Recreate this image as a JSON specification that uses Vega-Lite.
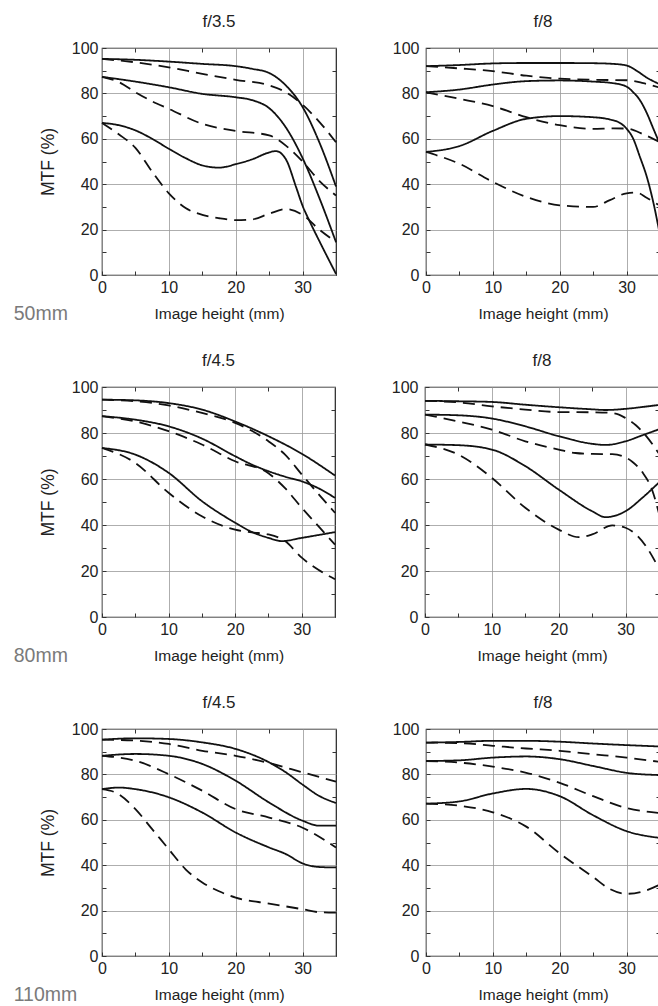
{
"$schema":"https://vega.github.io/schema/vega-lite/v6.json",
"padding":{"left":13,"top":12,"right":0,"bottom":0},
"background":"white",
"config":{
 "font":"Liberation Sans",
 "view":{"stroke":"#222","strokeWidth":1.2},
 "axis":{"labelFont":"Liberation Sans","labelFontSize":16,"labelColor":"#222","titleFont":"Liberation Sans","titleFontSize":15.5,"titleFontWeight":"normal","titleColor":"#222","gridColor":"#999","gridWidth":0.8,"tickColor":"#333","tickWidth":1,"domain":false,"labelFlush":false,"labelOverlap":false},
 "axisY":{"titleFontSize":17.5},
 "title":{"font":"Liberation Sans","fontSize":17,"fontWeight":"normal","color":"#222","offset":9},
 "line":{"strokeWidth":1.8},
 "concat":{"spacing":50}
},
"datasets":{"mtf":[
{"panel":"A","dir":"S","freq":1,"h":0,"mtf":95.2},{"panel":"A","dir":"S","freq":1,"h":5,"mtf":94.8},{"panel":"A","dir":"S","freq":1,"h":10,"mtf":94},{"panel":"A","dir":"S","freq":1,"h":15,"mtf":93},{"panel":"A","dir":"S","freq":1,"h":20,"mtf":92},{"panel":"A","dir":"S","freq":1,"h":22.5,"mtf":90.8},{"panel":"A","dir":"S","freq":1,"h":25,"mtf":89},{"panel":"A","dir":"S","freq":1,"h":27.5,"mtf":83.5},{"panel":"A","dir":"S","freq":1,"h":30,"mtf":74},{"panel":"A","dir":"S","freq":1,"h":32.5,"mtf":58.5},{"panel":"A","dir":"S","freq":1,"h":35,"mtf":39},
{"panel":"A","dir":"M","freq":1,"h":0,"mtf":95.2},{"panel":"A","dir":"M","freq":1,"h":5,"mtf":93.7},{"panel":"A","dir":"M","freq":1,"h":10,"mtf":91.5},{"panel":"A","dir":"M","freq":1,"h":15,"mtf":88.6},{"panel":"A","dir":"M","freq":1,"h":20,"mtf":86},{"panel":"A","dir":"M","freq":1,"h":25,"mtf":83.5},{"panel":"A","dir":"M","freq":1,"h":27.5,"mtf":80.5},{"panel":"A","dir":"M","freq":1,"h":30,"mtf":75},{"panel":"A","dir":"M","freq":1,"h":32.5,"mtf":67.5},{"panel":"A","dir":"M","freq":1,"h":35,"mtf":58.5},
{"panel":"A","dir":"S","freq":2,"h":0,"mtf":87.3},{"panel":"A","dir":"S","freq":2,"h":5,"mtf":85.2},{"panel":"A","dir":"S","freq":2,"h":10,"mtf":82.7},{"panel":"A","dir":"S","freq":2,"h":15,"mtf":79.8},{"panel":"A","dir":"S","freq":2,"h":20,"mtf":78.3},{"panel":"A","dir":"S","freq":2,"h":22.5,"mtf":77},{"panel":"A","dir":"S","freq":2,"h":25,"mtf":73.5},{"panel":"A","dir":"S","freq":2,"h":27.5,"mtf":65},{"panel":"A","dir":"S","freq":2,"h":30,"mtf":51.5},{"panel":"A","dir":"S","freq":2,"h":32.5,"mtf":34},{"panel":"A","dir":"S","freq":2,"h":35,"mtf":14.5},
{"panel":"A","dir":"M","freq":2,"h":0,"mtf":87.3},{"panel":"A","dir":"M","freq":2,"h":2.5,"mtf":85},{"panel":"A","dir":"M","freq":2,"h":5,"mtf":80.5},{"panel":"A","dir":"M","freq":2,"h":7.5,"mtf":76.5},{"panel":"A","dir":"M","freq":2,"h":10,"mtf":73.2},{"panel":"A","dir":"M","freq":2,"h":15,"mtf":66.6},{"panel":"A","dir":"M","freq":2,"h":20,"mtf":63.5},{"panel":"A","dir":"M","freq":2,"h":25,"mtf":61.5},{"panel":"A","dir":"M","freq":2,"h":27.5,"mtf":57},{"panel":"A","dir":"M","freq":2,"h":30,"mtf":50},{"panel":"A","dir":"M","freq":2,"h":32.5,"mtf":41.5},{"panel":"A","dir":"M","freq":2,"h":35,"mtf":35},
{"panel":"A","dir":"S","freq":3,"h":0,"mtf":67},{"panel":"A","dir":"S","freq":3,"h":2.5,"mtf":66},{"panel":"A","dir":"S","freq":3,"h":5,"mtf":63.7},{"panel":"A","dir":"S","freq":3,"h":7.5,"mtf":60},{"panel":"A","dir":"S","freq":3,"h":10,"mtf":55.6},{"panel":"A","dir":"S","freq":3,"h":12.5,"mtf":51.5},{"panel":"A","dir":"S","freq":3,"h":15,"mtf":48.3},{"panel":"A","dir":"S","freq":3,"h":17.5,"mtf":47.3},{"panel":"A","dir":"S","freq":3,"h":20,"mtf":48.8},{"panel":"A","dir":"S","freq":3,"h":22.5,"mtf":51},{"panel":"A","dir":"S","freq":3,"h":25,"mtf":54},{"panel":"A","dir":"S","freq":3,"h":26,"mtf":54.6},{"panel":"A","dir":"S","freq":3,"h":27.5,"mtf":51},{"panel":"A","dir":"S","freq":3,"h":29,"mtf":39},{"panel":"A","dir":"S","freq":3,"h":30,"mtf":30.5},{"panel":"A","dir":"S","freq":3,"h":31,"mtf":24},{"panel":"A","dir":"S","freq":3,"h":32.5,"mtf":15},{"panel":"A","dir":"S","freq":3,"h":35,"mtf":0.5},
{"panel":"A","dir":"M","freq":3,"h":0,"mtf":67},{"panel":"A","dir":"M","freq":3,"h":2.5,"mtf":62},{"panel":"A","dir":"M","freq":3,"h":5,"mtf":56},{"panel":"A","dir":"M","freq":3,"h":7.5,"mtf":45.5},{"panel":"A","dir":"M","freq":3,"h":10,"mtf":36},{"panel":"A","dir":"M","freq":3,"h":12.5,"mtf":29.5},{"panel":"A","dir":"M","freq":3,"h":15,"mtf":26.5},{"panel":"A","dir":"M","freq":3,"h":17.5,"mtf":25},{"panel":"A","dir":"M","freq":3,"h":20,"mtf":24.2},{"panel":"A","dir":"M","freq":3,"h":22.5,"mtf":24.5},{"panel":"A","dir":"M","freq":3,"h":25,"mtf":27},{"panel":"A","dir":"M","freq":3,"h":27.5,"mtf":29},{"panel":"A","dir":"M","freq":3,"h":30,"mtf":26.5},{"panel":"A","dir":"M","freq":3,"h":32.5,"mtf":20},{"panel":"A","dir":"M","freq":3,"h":35,"mtf":14.5},

{"panel":"B","dir":"S","freq":1,"h":0,"mtf":92},{"panel":"B","dir":"S","freq":1,"h":5,"mtf":92.5},{"panel":"B","dir":"S","freq":1,"h":10,"mtf":93.2},{"panel":"B","dir":"S","freq":1,"h":15,"mtf":93.4},{"panel":"B","dir":"S","freq":1,"h":20,"mtf":93.4},{"panel":"B","dir":"S","freq":1,"h":25,"mtf":93.3},{"panel":"B","dir":"S","freq":1,"h":28,"mtf":93},{"panel":"B","dir":"S","freq":1,"h":30,"mtf":92.3},{"panel":"B","dir":"S","freq":1,"h":31.5,"mtf":90},{"panel":"B","dir":"S","freq":1,"h":33,"mtf":87},{"panel":"B","dir":"S","freq":1,"h":35,"mtf":84},
{"panel":"B","dir":"M","freq":1,"h":0,"mtf":92},{"panel":"B","dir":"M","freq":1,"h":5,"mtf":91},{"panel":"B","dir":"M","freq":1,"h":10,"mtf":89.8},{"panel":"B","dir":"M","freq":1,"h":15,"mtf":87.8},{"panel":"B","dir":"M","freq":1,"h":20,"mtf":86.5},{"panel":"B","dir":"M","freq":1,"h":25,"mtf":86},{"panel":"B","dir":"M","freq":1,"h":30,"mtf":85.8},{"panel":"B","dir":"M","freq":1,"h":32.5,"mtf":84.5},{"panel":"B","dir":"M","freq":1,"h":35,"mtf":82.5},
{"panel":"B","dir":"S","freq":2,"h":0,"mtf":80.5},{"panel":"B","dir":"S","freq":2,"h":5,"mtf":81.7},{"panel":"B","dir":"S","freq":2,"h":10,"mtf":83.9},{"panel":"B","dir":"S","freq":2,"h":15,"mtf":85.4},{"panel":"B","dir":"S","freq":2,"h":20,"mtf":85.7},{"panel":"B","dir":"S","freq":2,"h":25,"mtf":85.2},{"panel":"B","dir":"S","freq":2,"h":28,"mtf":84.5},{"panel":"B","dir":"S","freq":2,"h":30,"mtf":83},{"panel":"B","dir":"S","freq":2,"h":31,"mtf":80.5},{"panel":"B","dir":"S","freq":2,"h":32,"mtf":77},{"panel":"B","dir":"S","freq":2,"h":33,"mtf":71.5},{"panel":"B","dir":"S","freq":2,"h":34,"mtf":64.5},{"panel":"B","dir":"S","freq":2,"h":35,"mtf":57.5},
{"panel":"B","dir":"M","freq":2,"h":0,"mtf":80.5},{"panel":"B","dir":"M","freq":2,"h":5,"mtf":77.6},{"panel":"B","dir":"M","freq":2,"h":10,"mtf":74.4},{"panel":"B","dir":"M","freq":2,"h":15,"mtf":69.5},{"panel":"B","dir":"M","freq":2,"h":20,"mtf":66},{"panel":"B","dir":"M","freq":2,"h":25,"mtf":64.4},{"panel":"B","dir":"M","freq":2,"h":28,"mtf":64.6},{"panel":"B","dir":"M","freq":2,"h":30,"mtf":64.5},{"panel":"B","dir":"M","freq":2,"h":32.5,"mtf":62},{"panel":"B","dir":"M","freq":2,"h":35,"mtf":58.5},
{"panel":"B","dir":"S","freq":3,"h":0,"mtf":54.2},{"panel":"B","dir":"S","freq":3,"h":5,"mtf":56.8},{"panel":"B","dir":"S","freq":3,"h":10,"mtf":63.5},{"panel":"B","dir":"S","freq":3,"h":15,"mtf":68.8},{"panel":"B","dir":"S","freq":3,"h":20,"mtf":70},{"panel":"B","dir":"S","freq":3,"h":25,"mtf":69.5},{"panel":"B","dir":"S","freq":3,"h":27.5,"mtf":68.5},{"panel":"B","dir":"S","freq":3,"h":29,"mtf":67},{"panel":"B","dir":"S","freq":3,"h":30,"mtf":64.5},{"panel":"B","dir":"S","freq":3,"h":31,"mtf":60},{"panel":"B","dir":"S","freq":3,"h":32,"mtf":52},{"panel":"B","dir":"S","freq":3,"h":33,"mtf":43.5},{"panel":"B","dir":"S","freq":3,"h":34,"mtf":32},{"panel":"B","dir":"S","freq":3,"h":35,"mtf":17.5},
{"panel":"B","dir":"M","freq":3,"h":0,"mtf":54.2},{"panel":"B","dir":"M","freq":3,"h":5,"mtf":49},{"panel":"B","dir":"M","freq":3,"h":10,"mtf":41},{"panel":"B","dir":"M","freq":3,"h":15,"mtf":34.4},{"panel":"B","dir":"M","freq":3,"h":20,"mtf":30.7},{"panel":"B","dir":"M","freq":3,"h":25,"mtf":30},{"panel":"B","dir":"M","freq":3,"h":27.5,"mtf":33},{"panel":"B","dir":"M","freq":3,"h":30,"mtf":36},{"panel":"B","dir":"M","freq":3,"h":31.5,"mtf":36.3},{"panel":"B","dir":"M","freq":3,"h":33,"mtf":34},{"panel":"B","dir":"M","freq":3,"h":35,"mtf":30.5},

{"panel":"C","dir":"S","freq":1,"h":0,"mtf":94.5},{"panel":"C","dir":"S","freq":1,"h":5,"mtf":94.2},{"panel":"C","dir":"S","freq":1,"h":10,"mtf":93},{"panel":"C","dir":"S","freq":1,"h":15,"mtf":90.2},{"panel":"C","dir":"S","freq":1,"h":20,"mtf":85},{"panel":"C","dir":"S","freq":1,"h":25,"mtf":78.6},{"panel":"C","dir":"S","freq":1,"h":30,"mtf":71},{"panel":"C","dir":"S","freq":1,"h":35,"mtf":61.5},
{"panel":"C","dir":"M","freq":1,"h":0,"mtf":94.5},{"panel":"C","dir":"M","freq":1,"h":5,"mtf":93.8},{"panel":"C","dir":"M","freq":1,"h":10,"mtf":92},{"panel":"C","dir":"M","freq":1,"h":15,"mtf":88.7},{"panel":"C","dir":"M","freq":1,"h":20,"mtf":84.4},{"panel":"C","dir":"M","freq":1,"h":25,"mtf":76.4},{"panel":"C","dir":"M","freq":1,"h":27.5,"mtf":70.6},{"panel":"C","dir":"M","freq":1,"h":30,"mtf":62},{"panel":"C","dir":"M","freq":1,"h":32.5,"mtf":53.5},{"panel":"C","dir":"M","freq":1,"h":35,"mtf":45.3},
{"panel":"C","dir":"S","freq":2,"h":0,"mtf":87.3},{"panel":"C","dir":"S","freq":2,"h":5,"mtf":85.8},{"panel":"C","dir":"S","freq":2,"h":10,"mtf":82.9},{"panel":"C","dir":"S","freq":2,"h":15,"mtf":77.6},{"panel":"C","dir":"S","freq":2,"h":20,"mtf":69.9},{"panel":"C","dir":"S","freq":2,"h":22.5,"mtf":66.3},{"panel":"C","dir":"S","freq":2,"h":25,"mtf":63.4},{"panel":"C","dir":"S","freq":2,"h":27.5,"mtf":61},{"panel":"C","dir":"S","freq":2,"h":30,"mtf":59},{"panel":"C","dir":"S","freq":2,"h":32.5,"mtf":56},{"panel":"C","dir":"S","freq":2,"h":35,"mtf":51.8},
{"panel":"C","dir":"M","freq":2,"h":0,"mtf":87.3},{"panel":"C","dir":"M","freq":2,"h":5,"mtf":85},{"panel":"C","dir":"M","freq":2,"h":10,"mtf":80.8},{"panel":"C","dir":"M","freq":2,"h":15,"mtf":75},{"panel":"C","dir":"M","freq":2,"h":20,"mtf":67.7},{"panel":"C","dir":"M","freq":2,"h":25,"mtf":62.5},{"panel":"C","dir":"M","freq":2,"h":27.5,"mtf":56},{"panel":"C","dir":"M","freq":2,"h":30,"mtf":47.5},{"panel":"C","dir":"M","freq":2,"h":32.5,"mtf":39.5},{"panel":"C","dir":"M","freq":2,"h":35,"mtf":31.5},
{"panel":"C","dir":"S","freq":3,"h":0,"mtf":73.5},{"panel":"C","dir":"S","freq":3,"h":5,"mtf":70.6},{"panel":"C","dir":"S","freq":3,"h":10,"mtf":62.7},{"panel":"C","dir":"S","freq":3,"h":15,"mtf":50.4},{"panel":"C","dir":"S","freq":3,"h":20,"mtf":41},{"panel":"C","dir":"S","freq":3,"h":22.5,"mtf":37},{"panel":"C","dir":"S","freq":3,"h":25,"mtf":34.4},{"panel":"C","dir":"S","freq":3,"h":27,"mtf":33},{"panel":"C","dir":"S","freq":3,"h":30,"mtf":34.4},{"panel":"C","dir":"S","freq":3,"h":35,"mtf":36.9},
{"panel":"C","dir":"M","freq":3,"h":0,"mtf":73.5},{"panel":"C","dir":"M","freq":3,"h":5,"mtf":67},{"panel":"C","dir":"M","freq":3,"h":10,"mtf":54},{"panel":"C","dir":"M","freq":3,"h":15,"mtf":43.8},{"panel":"C","dir":"M","freq":3,"h":20,"mtf":38},{"panel":"C","dir":"M","freq":3,"h":22.5,"mtf":36.8},{"panel":"C","dir":"M","freq":3,"h":25,"mtf":35.9},{"panel":"C","dir":"M","freq":3,"h":27.5,"mtf":33},{"panel":"C","dir":"M","freq":3,"h":30,"mtf":25.8},{"panel":"C","dir":"M","freq":3,"h":32.5,"mtf":20.5},{"panel":"C","dir":"M","freq":3,"h":35,"mtf":16.4},

{"panel":"D","dir":"S","freq":1,"h":0,"mtf":94},{"panel":"D","dir":"S","freq":1,"h":5,"mtf":93.8},{"panel":"D","dir":"S","freq":1,"h":10,"mtf":93.5},{"panel":"D","dir":"S","freq":1,"h":15,"mtf":92.3},{"panel":"D","dir":"S","freq":1,"h":20,"mtf":91.2},{"panel":"D","dir":"S","freq":1,"h":25,"mtf":90.3},{"panel":"D","dir":"S","freq":1,"h":27,"mtf":90},{"panel":"D","dir":"S","freq":1,"h":30,"mtf":90.5},{"panel":"D","dir":"S","freq":1,"h":32.5,"mtf":91.3},{"panel":"D","dir":"S","freq":1,"h":35,"mtf":92.2},
{"panel":"D","dir":"M","freq":1,"h":0,"mtf":94},{"panel":"D","dir":"M","freq":1,"h":5,"mtf":93.3},{"panel":"D","dir":"M","freq":1,"h":10,"mtf":91.6},{"panel":"D","dir":"M","freq":1,"h":15,"mtf":90.2},{"panel":"D","dir":"M","freq":1,"h":20,"mtf":89.1},{"panel":"D","dir":"M","freq":1,"h":25,"mtf":89},{"panel":"D","dir":"M","freq":1,"h":27.5,"mtf":88.8},{"panel":"D","dir":"M","freq":1,"h":29,"mtf":88},{"panel":"D","dir":"M","freq":1,"h":30,"mtf":86.5},{"panel":"D","dir":"M","freq":1,"h":31.5,"mtf":83.5},{"panel":"D","dir":"M","freq":1,"h":33,"mtf":79},{"panel":"D","dir":"M","freq":1,"h":35,"mtf":71},
{"panel":"D","dir":"S","freq":2,"h":0,"mtf":88},{"panel":"D","dir":"S","freq":2,"h":5,"mtf":87.7},{"panel":"D","dir":"S","freq":2,"h":10,"mtf":86.3},{"panel":"D","dir":"S","freq":2,"h":15,"mtf":82.9},{"panel":"D","dir":"S","freq":2,"h":20,"mtf":78.6},{"panel":"D","dir":"S","freq":2,"h":25,"mtf":75.3},{"panel":"D","dir":"S","freq":2,"h":27,"mtf":74.8},{"panel":"D","dir":"S","freq":2,"h":30,"mtf":76.4},{"panel":"D","dir":"S","freq":2,"h":32.5,"mtf":79},{"panel":"D","dir":"S","freq":2,"h":35,"mtf":81.6},
{"panel":"D","dir":"M","freq":2,"h":0,"mtf":88},{"panel":"D","dir":"M","freq":2,"h":5,"mtf":85},{"panel":"D","dir":"M","freq":2,"h":10,"mtf":81.5},{"panel":"D","dir":"M","freq":2,"h":15,"mtf":76.4},{"panel":"D","dir":"M","freq":2,"h":20,"mtf":72.8},{"panel":"D","dir":"M","freq":2,"h":22.5,"mtf":71.3},{"panel":"D","dir":"M","freq":2,"h":25,"mtf":70.9},{"panel":"D","dir":"M","freq":2,"h":28,"mtf":70.8},{"panel":"D","dir":"M","freq":2,"h":29.5,"mtf":70},{"panel":"D","dir":"M","freq":2,"h":31,"mtf":67.5},{"panel":"D","dir":"M","freq":2,"h":32.5,"mtf":63},{"panel":"D","dir":"M","freq":2,"h":34,"mtf":55},{"panel":"D","dir":"M","freq":2,"h":35,"mtf":45},
{"panel":"D","dir":"S","freq":3,"h":0,"mtf":75},{"panel":"D","dir":"S","freq":3,"h":5,"mtf":74.7},{"panel":"D","dir":"S","freq":3,"h":10,"mtf":72.8},{"panel":"D","dir":"S","freq":3,"h":15,"mtf":65.6},{"panel":"D","dir":"S","freq":3,"h":20,"mtf":55.4},{"panel":"D","dir":"S","freq":3,"h":25,"mtf":46},{"panel":"D","dir":"S","freq":3,"h":27,"mtf":43.4},{"panel":"D","dir":"S","freq":3,"h":30,"mtf":46},{"panel":"D","dir":"S","freq":3,"h":32.5,"mtf":51.8},{"panel":"D","dir":"S","freq":3,"h":35,"mtf":58.5},
{"panel":"D","dir":"M","freq":3,"h":0,"mtf":75},{"panel":"D","dir":"M","freq":3,"h":5,"mtf":70.6},{"panel":"D","dir":"M","freq":3,"h":10,"mtf":60.5},{"panel":"D","dir":"M","freq":3,"h":15,"mtf":47.5},{"panel":"D","dir":"M","freq":3,"h":20,"mtf":38},{"panel":"D","dir":"M","freq":3,"h":23,"mtf":34.7},{"panel":"D","dir":"M","freq":3,"h":25,"mtf":35.9},{"panel":"D","dir":"M","freq":3,"h":28,"mtf":39.8},{"panel":"D","dir":"M","freq":3,"h":30,"mtf":38.8},{"panel":"D","dir":"M","freq":3,"h":31.5,"mtf":36},{"panel":"D","dir":"M","freq":3,"h":33,"mtf":31},{"panel":"D","dir":"M","freq":3,"h":35,"mtf":21},

{"panel":"E","dir":"S","freq":1,"h":0,"mtf":95.3},{"panel":"E","dir":"S","freq":1,"h":5,"mtf":95.9},{"panel":"E","dir":"S","freq":1,"h":10,"mtf":95.6},{"panel":"E","dir":"S","freq":1,"h":15,"mtf":94.1},{"panel":"E","dir":"S","freq":1,"h":20,"mtf":91.2},{"panel":"E","dir":"S","freq":1,"h":25,"mtf":85.3},{"panel":"E","dir":"S","freq":1,"h":27.5,"mtf":80.9},{"panel":"E","dir":"S","freq":1,"h":30,"mtf":75.5},{"panel":"E","dir":"S","freq":1,"h":32.5,"mtf":70.5},{"panel":"E","dir":"S","freq":1,"h":35,"mtf":67.4},
{"panel":"E","dir":"M","freq":1,"h":0,"mtf":95.3},{"panel":"E","dir":"M","freq":1,"h":5,"mtf":94.9},{"panel":"E","dir":"M","freq":1,"h":10,"mtf":93.4},{"panel":"E","dir":"M","freq":1,"h":15,"mtf":90.4},{"panel":"E","dir":"M","freq":1,"h":20,"mtf":88.2},{"panel":"E","dir":"M","freq":1,"h":25,"mtf":85},{"panel":"E","dir":"M","freq":1,"h":30,"mtf":80.9},{"panel":"E","dir":"M","freq":1,"h":35,"mtf":76.8},
{"panel":"E","dir":"S","freq":2,"h":0,"mtf":88.2},{"panel":"E","dir":"S","freq":2,"h":5,"mtf":89},{"panel":"E","dir":"S","freq":2,"h":10,"mtf":88.2},{"panel":"E","dir":"S","freq":2,"h":15,"mtf":84.6},{"panel":"E","dir":"S","freq":2,"h":20,"mtf":77.2},{"panel":"E","dir":"S","freq":2,"h":25,"mtf":67.6},{"panel":"E","dir":"S","freq":2,"h":30,"mtf":59.6},{"panel":"E","dir":"S","freq":2,"h":32.5,"mtf":57.4},{"panel":"E","dir":"S","freq":2,"h":35,"mtf":57.4},
{"panel":"E","dir":"M","freq":2,"h":0,"mtf":88.2},{"panel":"E","dir":"M","freq":2,"h":5,"mtf":86},{"panel":"E","dir":"M","freq":2,"h":10,"mtf":80.1},{"panel":"E","dir":"M","freq":2,"h":15,"mtf":72.8},{"panel":"E","dir":"M","freq":2,"h":20,"mtf":64.7},{"panel":"E","dir":"M","freq":2,"h":25,"mtf":61},{"panel":"E","dir":"M","freq":2,"h":30,"mtf":56.5},{"panel":"E","dir":"M","freq":2,"h":35,"mtf":47.8},
{"panel":"E","dir":"S","freq":3,"h":0,"mtf":73.5},{"panel":"E","dir":"S","freq":3,"h":2.5,"mtf":74.2},{"panel":"E","dir":"S","freq":3,"h":5,"mtf":73.5},{"panel":"E","dir":"S","freq":3,"h":10,"mtf":69.9},{"panel":"E","dir":"S","freq":3,"h":15,"mtf":63.2},{"panel":"E","dir":"S","freq":3,"h":20,"mtf":54.4},{"panel":"E","dir":"S","freq":3,"h":25,"mtf":47.8},{"panel":"E","dir":"S","freq":3,"h":27.5,"mtf":44.9},{"panel":"E","dir":"S","freq":3,"h":30,"mtf":40.8},{"panel":"E","dir":"S","freq":3,"h":32.5,"mtf":39.2},{"panel":"E","dir":"S","freq":3,"h":35,"mtf":39},
{"panel":"E","dir":"M","freq":3,"h":0,"mtf":73.5},{"panel":"E","dir":"M","freq":3,"h":2.5,"mtf":71.3},{"panel":"E","dir":"M","freq":3,"h":5,"mtf":64.7},{"panel":"E","dir":"M","freq":3,"h":7.5,"mtf":55.9},{"panel":"E","dir":"M","freq":3,"h":10,"mtf":47},{"panel":"E","dir":"M","freq":3,"h":12.5,"mtf":38.2},{"panel":"E","dir":"M","freq":3,"h":15,"mtf":32.4},{"panel":"E","dir":"M","freq":3,"h":17.5,"mtf":28.5},{"panel":"E","dir":"M","freq":3,"h":20,"mtf":25.7},{"panel":"E","dir":"M","freq":3,"h":25,"mtf":23.1},{"panel":"E","dir":"M","freq":3,"h":30,"mtf":20.6},{"panel":"E","dir":"M","freq":3,"h":32.5,"mtf":19.3},{"panel":"E","dir":"M","freq":3,"h":35,"mtf":19.1},

{"panel":"F","dir":"S","freq":1,"h":0,"mtf":94},{"panel":"F","dir":"S","freq":1,"h":5,"mtf":94.3},{"panel":"F","dir":"S","freq":1,"h":10,"mtf":94.8},{"panel":"F","dir":"S","freq":1,"h":15,"mtf":94.8},{"panel":"F","dir":"S","freq":1,"h":20,"mtf":94.4},{"panel":"F","dir":"S","freq":1,"h":25,"mtf":93.6},{"panel":"F","dir":"S","freq":1,"h":30,"mtf":92.9},{"panel":"F","dir":"S","freq":1,"h":35,"mtf":92.3},
{"panel":"F","dir":"M","freq":1,"h":0,"mtf":94},{"panel":"F","dir":"M","freq":1,"h":5,"mtf":93.8},{"panel":"F","dir":"M","freq":1,"h":10,"mtf":92.6},{"panel":"F","dir":"M","freq":1,"h":15,"mtf":91.4},{"panel":"F","dir":"M","freq":1,"h":20,"mtf":90.4},{"panel":"F","dir":"M","freq":1,"h":25,"mtf":88.9},{"panel":"F","dir":"M","freq":1,"h":30,"mtf":87.4},{"panel":"F","dir":"M","freq":1,"h":35,"mtf":85.5},
{"panel":"F","dir":"S","freq":2,"h":0,"mtf":85.9},{"panel":"F","dir":"S","freq":2,"h":5,"mtf":86.2},{"panel":"F","dir":"S","freq":2,"h":10,"mtf":87.4},{"panel":"F","dir":"S","freq":2,"h":15,"mtf":87.9},{"panel":"F","dir":"S","freq":2,"h":20,"mtf":86.7},{"panel":"F","dir":"S","freq":2,"h":25,"mtf":83.7},{"panel":"F","dir":"S","freq":2,"h":30,"mtf":80.7},{"panel":"F","dir":"S","freq":2,"h":35,"mtf":79.7},
{"panel":"F","dir":"M","freq":2,"h":0,"mtf":85.9},{"panel":"F","dir":"M","freq":2,"h":5,"mtf":85.2},{"panel":"F","dir":"M","freq":2,"h":10,"mtf":83.4},{"panel":"F","dir":"M","freq":2,"h":15,"mtf":80.7},{"panel":"F","dir":"M","freq":2,"h":20,"mtf":76.3},{"panel":"F","dir":"M","freq":2,"h":25,"mtf":70.4},{"panel":"F","dir":"M","freq":2,"h":30,"mtf":65.2},{"panel":"F","dir":"M","freq":2,"h":35,"mtf":63},
{"panel":"F","dir":"S","freq":3,"h":0,"mtf":67.1},{"panel":"F","dir":"S","freq":3,"h":5,"mtf":68.1},{"panel":"F","dir":"S","freq":3,"h":10,"mtf":71.6},{"panel":"F","dir":"S","freq":3,"h":15,"mtf":73.6},{"panel":"F","dir":"S","freq":3,"h":20,"mtf":70.4},{"panel":"F","dir":"S","freq":3,"h":25,"mtf":62},{"panel":"F","dir":"S","freq":3,"h":30,"mtf":55},{"panel":"F","dir":"S","freq":3,"h":35,"mtf":52},
{"panel":"F","dir":"M","freq":3,"h":0,"mtf":67.1},{"panel":"F","dir":"M","freq":3,"h":5,"mtf":66.2},{"panel":"F","dir":"M","freq":3,"h":10,"mtf":63.3},{"panel":"F","dir":"M","freq":3,"h":15,"mtf":57},{"panel":"F","dir":"M","freq":3,"h":20,"mtf":45.2},{"panel":"F","dir":"M","freq":3,"h":25,"mtf":34.8},{"panel":"F","dir":"M","freq":3,"h":27.5,"mtf":29.5},{"panel":"F","dir":"M","freq":3,"h":30,"mtf":27.4},{"panel":"F","dir":"M","freq":3,"h":32.5,"mtf":28.5},{"panel":"F","dir":"M","freq":3,"h":35,"mtf":31.5}
]},
"spacing":27,
"vconcat":[
{"title":{"text":"50mm","orient":"bottom","anchor":"start","fontSize":19.5,"color":"#7a7a7a","offset":-17,"dx":-25},
 "spacing":50,
 "hconcat":[
  {"width":234,"height":227,"title":"f/3.5","data":{"name":"mtf"},"transform":[{"filter":"datum.panel === 'A'"}],
   "layer":[
    {"mark":{"type":"line","interpolate":"monotone","strokeWidth":1.8,"color":"#111"},
     "encoding":{
      "x":{"field":"h","type":"quantitative","scale":{"domain":[0,35],"nice":false},"axis":{"orient":"bottom","values":[0,5,10,15,20,25,30,35],"labelExpr":"datum.value % 10 === 0 && datum.value < 35 ? datum.label : ''","title":"Image height (mm)","grid":true,"gridOpacity":{"condition":{"test":"datum.value % 10 === 0","value":1},"value":0},"tickSize":-4,"labelPadding":8,"titlePadding":11}},
      "y":{"field":"mtf","type":"quantitative","scale":{"domain":[0,100],"nice":false},"axis":{"orient":"left","values":[0,10,20,30,40,50,60,70,80,90,100],"labelExpr":"datum.value % 20 === 0 ? datum.label : ''","title":"MTF (%)","grid":true,"gridOpacity":{"condition":{"test":"datum.value % 20 === 0","value":1},"value":0},"tickSize":-4,"labelPadding":8,"titlePadding":14}},
      "detail":{"field":"freq"},
      "strokeDash":{"field":"dir","type":"nominal","scale":{"domain":["S","M"],"range":[[1,0],[12,7]]},"legend":null}}},
    {"mark":{"type":"line","strokeOpacity":0},
     "encoding":{
      "x":{"field":"h","type":"quantitative","axis":{"orient":"top","values":[5,15,25],"labels":false,"grid":false,"title":null,"tickSize":-4}},
      "y":{"field":"mtf","type":"quantitative","axis":{"orient":"right","values":[10,30,50,70,90],"labels":false,"grid":false,"title":null,"tickSize":-4}},
      "detail":{"field":"freq"}}}
   ],
   "resolve":{"axis":{"x":"independent","y":"independent"}}},
  {"width":234,"height":227,"title":"f/8","data":{"name":"mtf"},"transform":[{"filter":"datum.panel === 'B'"}],
   "layer":[
    {"mark":{"type":"line","interpolate":"monotone","strokeWidth":1.8,"color":"#111"},
     "encoding":{
      "x":{"field":"h","type":"quantitative","scale":{"domain":[0,35],"nice":false},"axis":{"orient":"bottom","values":[0,5,10,15,20,25,30,35],"labelExpr":"datum.value % 10 === 0 && datum.value < 35 ? datum.label : ''","title":"Image height (mm)","grid":true,"gridOpacity":{"condition":{"test":"datum.value % 10 === 0","value":1},"value":0},"tickSize":-4,"labelPadding":8,"titlePadding":11}},
      "y":{"field":"mtf","type":"quantitative","scale":{"domain":[0,100],"nice":false},"axis":{"orient":"left","values":[0,10,20,30,40,50,60,70,80,90,100],"labelExpr":"datum.value % 20 === 0 ? datum.label : ''","title":null,"grid":true,"gridOpacity":{"condition":{"test":"datum.value % 20 === 0","value":1},"value":0},"tickSize":-4,"labelPadding":11}},
      "detail":{"field":"freq"},
      "strokeDash":{"field":"dir","type":"nominal","scale":{"domain":["S","M"],"range":[[1,0],[12,7]]},"legend":null}}},
    {"mark":{"type":"line","strokeOpacity":0},
     "encoding":{
      "x":{"field":"h","type":"quantitative","axis":{"orient":"top","values":[5,15,25],"labels":false,"grid":false,"title":null,"tickSize":-4}},
      "y":{"field":"mtf","type":"quantitative","axis":{"orient":"right","values":[10,30,50,70,90],"labels":false,"grid":false,"title":null,"tickSize":-4}},
      "detail":{"field":"freq"}}}
   ],
   "resolve":{"axis":{"x":"independent","y":"independent"}}}
 ]},
{"title":{"text":"80mm","orient":"bottom","anchor":"start","fontSize":19.5,"color":"#7a7a7a","offset":-17,"dx":-25},
 "spacing":50,
 "hconcat":[
  {"width":233,"height":230,"title":"f/4.5","data":{"name":"mtf"},"transform":[{"filter":"datum.panel === 'C'"}],
   "layer":[
    {"mark":{"type":"line","interpolate":"monotone","strokeWidth":1.8,"color":"#111"},
     "encoding":{
      "x":{"field":"h","type":"quantitative","scale":{"domain":[0,35],"nice":false},"axis":{"orient":"bottom","values":[0,5,10,15,20,25,30,35],"labelExpr":"datum.value % 10 === 0 && datum.value < 35 ? datum.label : ''","title":"Image height (mm)","grid":true,"gridOpacity":{"condition":{"test":"datum.value % 10 === 0","value":1},"value":0},"tickSize":-4,"labelPadding":8,"titlePadding":11}},
      "y":{"field":"mtf","type":"quantitative","scale":{"domain":[0,100],"nice":false},"axis":{"orient":"left","values":[0,10,20,30,40,50,60,70,80,90,100],"labelExpr":"datum.value % 20 === 0 ? datum.label : ''","title":"MTF (%)","grid":true,"gridOpacity":{"condition":{"test":"datum.value % 20 === 0","value":1},"value":0},"tickSize":-4,"labelPadding":8,"titlePadding":14}},
      "detail":{"field":"freq"},
      "strokeDash":{"field":"dir","type":"nominal","scale":{"domain":["S","M"],"range":[[1,0],[12,7]]},"legend":null}}},
    {"mark":{"type":"line","strokeOpacity":0},
     "encoding":{
      "x":{"field":"h","type":"quantitative","axis":{"orient":"top","values":[5,15,25],"labels":false,"grid":false,"title":null,"tickSize":-4}},
      "y":{"field":"mtf","type":"quantitative","axis":{"orient":"right","values":[10,30,50,70,90],"labels":false,"grid":false,"title":null,"tickSize":-4}},
      "detail":{"field":"freq"}}}
   ],
   "resolve":{"axis":{"x":"independent","y":"independent"}}},
  {"width":234,"height":230,"title":"f/8","data":{"name":"mtf"},"transform":[{"filter":"datum.panel === 'D'"}],
   "layer":[
    {"mark":{"type":"line","interpolate":"monotone","strokeWidth":1.8,"color":"#111"},
     "encoding":{
      "x":{"field":"h","type":"quantitative","scale":{"domain":[0,35],"nice":false},"axis":{"orient":"bottom","values":[0,5,10,15,20,25,30,35],"labelExpr":"datum.value % 10 === 0 && datum.value < 35 ? datum.label : ''","title":"Image height (mm)","grid":true,"gridOpacity":{"condition":{"test":"datum.value % 10 === 0","value":1},"value":0},"tickSize":-4,"labelPadding":8,"titlePadding":11}},
      "y":{"field":"mtf","type":"quantitative","scale":{"domain":[0,100],"nice":false},"axis":{"orient":"left","values":[0,10,20,30,40,50,60,70,80,90,100],"labelExpr":"datum.value % 20 === 0 ? datum.label : ''","title":null,"grid":true,"gridOpacity":{"condition":{"test":"datum.value % 20 === 0","value":1},"value":0},"tickSize":-4,"labelPadding":11}},
      "detail":{"field":"freq"},
      "strokeDash":{"field":"dir","type":"nominal","scale":{"domain":["S","M"],"range":[[1,0],[12,7]]},"legend":null}}},
    {"mark":{"type":"line","strokeOpacity":0},
     "encoding":{
      "x":{"field":"h","type":"quantitative","axis":{"orient":"top","values":[5,15,25],"labels":false,"grid":false,"title":null,"tickSize":-4}},
      "y":{"field":"mtf","type":"quantitative","axis":{"orient":"right","values":[10,30,50,70,90],"labels":false,"grid":false,"title":null,"tickSize":-4}},
      "detail":{"field":"freq"}}}
   ],
   "resolve":{"axis":{"x":"independent","y":"independent"}}}
 ]},
{"title":{"text":"110mm","orient":"bottom","anchor":"start","fontSize":19.5,"color":"#7a7a7a","offset":-17,"dx":-25},
 "spacing":50,
 "hconcat":[
  {"width":234,"height":227,"title":"f/4.5","data":{"name":"mtf"},"transform":[{"filter":"datum.panel === 'E'"}],
   "layer":[
    {"mark":{"type":"line","interpolate":"monotone","strokeWidth":1.8,"color":"#111"},
     "encoding":{
      "x":{"field":"h","type":"quantitative","scale":{"domain":[0,35],"nice":false},"axis":{"orient":"bottom","values":[0,5,10,15,20,25,30,35],"labelExpr":"datum.value % 10 === 0 && datum.value < 35 ? datum.label : ''","title":"Image height (mm)","grid":true,"gridOpacity":{"condition":{"test":"datum.value % 10 === 0","value":1},"value":0},"tickSize":-4,"labelPadding":8,"titlePadding":11}},
      "y":{"field":"mtf","type":"quantitative","scale":{"domain":[0,100],"nice":false},"axis":{"orient":"left","values":[0,10,20,30,40,50,60,70,80,90,100],"labelExpr":"datum.value % 20 === 0 ? datum.label : ''","title":"MTF (%)","grid":true,"gridOpacity":{"condition":{"test":"datum.value % 20 === 0","value":1},"value":0},"tickSize":-4,"labelPadding":8,"titlePadding":14}},
      "detail":{"field":"freq"},
      "strokeDash":{"field":"dir","type":"nominal","scale":{"domain":["S","M"],"range":[[1,0],[12,7]]},"legend":null}}},
    {"mark":{"type":"line","strokeOpacity":0},
     "encoding":{
      "x":{"field":"h","type":"quantitative","axis":{"orient":"top","values":[5,15,25],"labels":false,"grid":false,"title":null,"tickSize":-4}},
      "y":{"field":"mtf","type":"quantitative","axis":{"orient":"right","values":[10,30,50,70,90],"labels":false,"grid":false,"title":null,"tickSize":-4}},
      "detail":{"field":"freq"}}}
   ],
   "resolve":{"axis":{"x":"independent","y":"independent"}}},
  {"width":234,"height":227,"title":"f/8","data":{"name":"mtf"},"transform":[{"filter":"datum.panel === 'F'"}],
   "layer":[
    {"mark":{"type":"line","interpolate":"monotone","strokeWidth":1.8,"color":"#111"},
     "encoding":{
      "x":{"field":"h","type":"quantitative","scale":{"domain":[0,35],"nice":false},"axis":{"orient":"bottom","values":[0,5,10,15,20,25,30,35],"labelExpr":"datum.value % 10 === 0 && datum.value < 35 ? datum.label : ''","title":"Image height (mm)","grid":true,"gridOpacity":{"condition":{"test":"datum.value % 10 === 0","value":1},"value":0},"tickSize":-4,"labelPadding":8,"titlePadding":11}},
      "y":{"field":"mtf","type":"quantitative","scale":{"domain":[0,100],"nice":false},"axis":{"orient":"left","values":[0,10,20,30,40,50,60,70,80,90,100],"labelExpr":"datum.value % 20 === 0 ? datum.label : ''","title":null,"grid":true,"gridOpacity":{"condition":{"test":"datum.value % 20 === 0","value":1},"value":0},"tickSize":-4,"labelPadding":11}},
      "detail":{"field":"freq"},
      "strokeDash":{"field":"dir","type":"nominal","scale":{"domain":["S","M"],"range":[[1,0],[12,7]]},"legend":null}}},
    {"mark":{"type":"line","strokeOpacity":0},
     "encoding":{
      "x":{"field":"h","type":"quantitative","axis":{"orient":"top","values":[5,15,25],"labels":false,"grid":false,"title":null,"tickSize":-4}},
      "y":{"field":"mtf","type":"quantitative","axis":{"orient":"right","values":[10,30,50,70,90],"labels":false,"grid":false,"title":null,"tickSize":-4}},
      "detail":{"field":"freq"}}}
   ],
   "resolve":{"axis":{"x":"independent","y":"independent"}}}
 ]}
]
}
